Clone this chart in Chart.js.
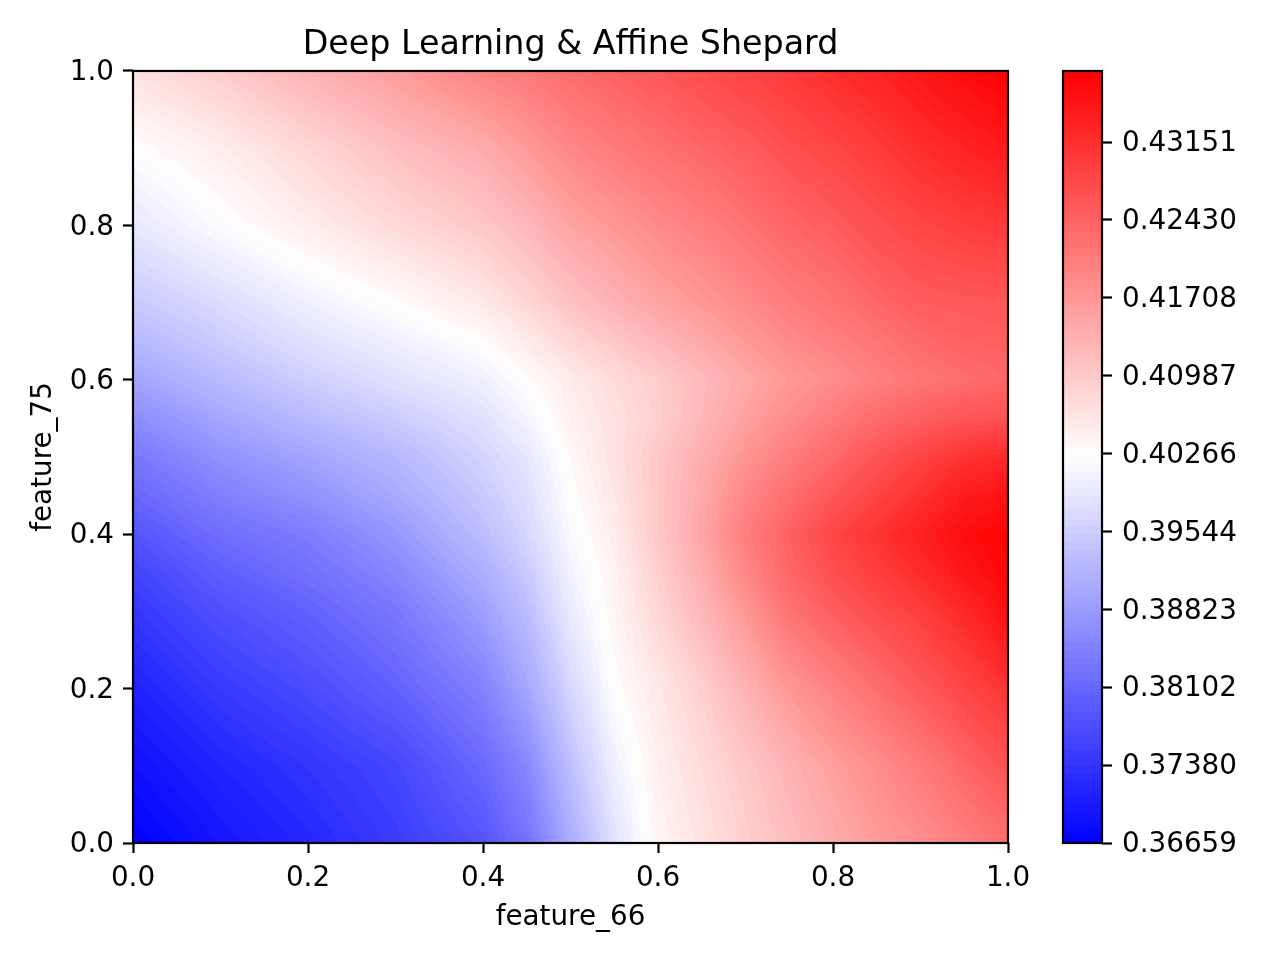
<!DOCTYPE html>
<html>
<head>
<meta charset="utf-8">
<title>Deep Learning & Affine Shepard</title>
<script src="https://cdn.jsdelivr.net/npm/chart.js@4"></script>
<style>
    html, body { margin: 0; padding: 0; background: #fff; }
    #wrap { position: relative; width: 1280px; height: 960px; }
    canvas { position: absolute; top: 0; }
    #heat { left: 0; }
    #cbar { left: 1040px; }
</style>
</head>
<body>
<div id="wrap">
    <canvas id="heat" width="1280" height="960"></canvas>
    <canvas id="cbar" width="240" height="960"></canvas>
</div>
<script>
/* ======================
   DATA
   ====================== */

const feature66 = [0, 0.1, 0.2, 0.3, 0.4, 0.45, 0.5, 0.55, 0.6, 0.65, 0.7, 0.75, 0.8, 0.85, 0.9, 0.95, 1];
const feature75 = [0, 0.1, 0.2, 0.3, 0.35, 0.4, 0.45, 0.5, 0.55, 0.6, 0.65, 0.7, 0.8, 0.9, 1];

// one row of values per feature_75 stop
const row000 = [.3666, .3695, .3720, .3748, .3784, .3827, .3906, .3981, .4038, .4063, .4091, .4116, .4141, .4163, .4181, .4202, .4224];
const row010 = [.3687, .3716, .3738, .3763, .3813, .3855, .3934, .4002, .4045, .4074, .4102, .4131, .4159, .4184, .4209, .4238, .4267];
const row020 = [.3712, .3745, .3770, .3802, .3848, .3898, .3966, .4024, .4056, .4091, .4131, .4170, .4199, .4227, .4256, .4284, .4310];
const row030 = [.3741, .3777, .3802, .3834, .3888, .3931, .3995, .4038, .4081, .4124, .4170, .4220, .4249, .4274, .4295, .4324, .4360];
const row035 = [.3759, .3798, .3823, .3855, .3909, .3948, .4006, .4041, .4091, .4138, .4192, .4238, .4270, .4295, .4320, .4349, .4374];
const row040 = [.3784, .3820, .3841, .3877, .3931, .3966, .4016, .4049, .4102, .4149, .4206, .4245, .4284, .4310, .4338, .4363, .4377];
const row045 = [.3809, .3845, .3870, .3902, .3948, .3977, .4024, .4059, .4102, .4145, .4192, .4227, .4259, .4288, .4313, .4342, .4356];
const row050 = [.3834, .3870, .3895, .3923, .3963, .3988, .4031, .4066, .4102, .4138, .4174, .4206, .4234, .4263, .4288, .4310, .4324];
const row055 = [.3863, .3898, .3927, .3952, .3981, .4009, .4045, .4066, .4091, .4124, .4156, .4184, .4209, .4231, .4249, .4263, .4267];
const row060 = [.3895, .3927, .3956, .3981, .4002, .4027, .4052, .4074, .4095, .4120, .4145, .4167, .4184, .4202, .4217, .4227, .4238];
const row065 = [.3923, .3952, .3981, .4002, .4027, .4052, .4081, .4102, .4124, .4145, .4167, .4188, .4202, .4217, .4234, .4245, .4249];
const row070 = [.3948, .3973, .4002, .4027, .4056, .4081, .4109, .4131, .4152, .4170, .4188, .4206, .4220, .4238, .4252, .4256, .4259];
const row080 = [.3991, .4020, .4049, .4077, .4102, .4124, .4152, .4170, .4188, .4202, .4220, .4238, .4252, .4270, .4284, .4295, .4302];
const row090 = [.4024, .4049, .4081, .4113, .4141, .4167, .4192, .4209, .4224, .4238, .4252, .4270, .4284, .4299, .4317, .4331, .4345];
const row100 = [.4066, .4095, .4131, .4163, .4199, .4213, .4231, .4245, .4259, .4274, .4288, .4302, .4317, .4331, .4349, .4367, .4381];
const rows = [row000, row010, row020, row030, row035, row040, row045, row050, row055, row060, row065, row070, row080, row090, row100];

const axisTicks = [0, 0.2, 0.4, 0.6, 0.8, 1];
const cbarTicks = [0.36659, 0.37380, 0.38102, 0.38823, 0.39544, 0.40266, 0.40987, 0.41708, 0.42430, 0.43151];
const valueMin = 0.36659;
const valueMax = 0.43810;
const levelCount = 100;

/* ======================
   COLOUR HELPERS
   ====================== */

// blue - white - red, stepped like a filled contour plot
const levelOf = (v) => {
    const t = (v - valueMin) / (valueMax - valueMin);
    const band = Math.min(levelCount - 1, Math.max(0, Math.floor(t * levelCount)));
    return (band + 0.5) / levelCount;
};

const bwr = (t) => {
    if (t < 0.5) return [Math.round(510 * t), Math.round(510 * t), 255];
    return [255, Math.round(510 * (1 - t)), Math.round(510 * (1 - t))];
};

const segmentOf = (stops, value) => {
    let i = 0;
    while (i < stops.length - 2 && value > stops[i + 1]) i++;
    return i;
};

/* ======================
   PLUGINS
   ====================== */

// Paints the grid through the chart scales. Only the shading between the read
// grid values is blended, the same way a gouraud pcolormesh would do it.
const heatPlugin = {
    id: 'heatPlugin',
    beforeDatasetsDraw(chart) {
        const { ctx, chartArea, scales } = chart;
        const width = Math.round(chartArea.right - chartArea.left);
        const height = Math.round(chartArea.bottom - chartArea.top);
        const off = document.createElement('canvas');
        off.width = width;
        off.height = height;
        const offCtx = off.getContext('2d');
        const image = offCtx.createImageData(width, height);

        for (let py = 0; py < height; py++) {
            const fy = scales.y.getValueForPixel(chartArea.top + py + 0.5);
            const j = segmentOf(feature75, fy);
            const ty = (fy - feature75[j]) / (feature75[j + 1] - feature75[j]);
            for (let px = 0; px < width; px++) {
                const fx = scales.x.getValueForPixel(chartArea.left + px + 0.5);
                const i = segmentOf(feature66, fx);
                const tx = (fx - feature66[i]) / (feature66[i + 1] - feature66[i]);
                const low = rows[j][i] * (1 - tx) + rows[j][i + 1] * tx;
                const high = rows[j + 1][i] * (1 - tx) + rows[j + 1][i + 1] * tx;
                const rgb = bwr(levelOf(low * (1 - ty) + high * ty));
                const at = (py * width + px) * 4;
                image.data[at] = rgb[0];
                image.data[at + 1] = rgb[1];
                image.data[at + 2] = rgb[2];
                image.data[at + 3] = 255;
            }
        }
        offCtx.putImageData(image, 0, 0);
        ctx.drawImage(off, chartArea.left, chartArea.top);
    }
};

const framePlugin = {
    id: 'framePlugin',
    afterDraw(chart) {
        const { ctx, chartArea } = chart;
        ctx.save();
        ctx.strokeStyle = '#000';
        ctx.lineWidth = 2.2;
        ctx.strokeRect(chartArea.left, chartArea.top, chartArea.right - chartArea.left, chartArea.bottom - chartArea.top);
        ctx.restore();
    }
};

/* ======================
   CHARTS
   ====================== */

Chart.defaults.color = '#000';
Chart.defaults.font.family = '"DejaVu Sans"';
Chart.defaults.font.size = 27.8;

const tickGrid = {
    drawOnChartArea: false,
    drawTicks: true,
    tickLength: 10,
    tickWidth: 2.2,
    tickColor: '#000'
};

const axisOptions = (label, titlePadding, labelOffset, afterFit) => ({
    type: 'linear',
    min: 0,
    max: 1,
    afterBuildTicks: (scale) => { scale.ticks = axisTicks.map(value => ({ value })); },
    afterFit,
    border: { display: false },
    grid: tickGrid,
    ticks: { padding: 9, labelOffset, maxRotation: 0, autoSkip: false, callback: (v) => v.toFixed(1) },
    title: { display: true, text: label, padding: titlePadding, font: { size: 27.8 } }
});

const cells = [];
rows.forEach((row, j) => row.forEach((v, i) => cells.push({ x: feature66[i], y: feature75[j], v })));

new Chart(document.getElementById('heat'), {
    type: 'scatter',
    data: { datasets: [{ data: cells, pointRadius: 0, pointHoverRadius: 0 }] },
    options: {
        responsive: false,
        animation: false,
        devicePixelRatio: 1,
        layout: { padding: { left: 0, right: 272, top: 0, bottom: 0 } },
        plugins: {
            legend: { display: false },
            tooltip: { enabled: false },
            title: {
                display: true,
                text: 'Deep Learning & Affine Shepard',
                fullSize: false,
                padding: { top: 25, bottom: 6 },
                font: { size: 33.3, weight: 'normal' }
            }
        },
        scales: {
            x: axisOptions('feature_66', { top: 0, bottom: 26 }, 0, (scale) => { scale.height = 117; }),
            y: axisOptions('feature_75', { top: 27, bottom: 0 }, 2, (scale) => { scale.width = 133; })
        }
    },
    plugins: [heatPlugin, framePlugin]
});

const cbarFill = (context) => {
    const area = context.chart.chartArea;
    if (!area) return '#fff';
    const gradient = context.chart.ctx.createLinearGradient(0, area.bottom, 0, area.top);
    for (let band = 0; band < levelCount; band++) {
        const rgb = bwr((band + 0.5) / levelCount);
        const color = `rgb(${rgb[0]},${rgb[1]},${rgb[2]})`;
        gradient.addColorStop(band / levelCount, color);
        gradient.addColorStop((band + 1) / levelCount, color);
    }
    return gradient;
};

new Chart(document.getElementById('cbar'), {
    type: 'bar',
    data: {
        labels: [''],
        datasets: [{
            data: [[valueMin, valueMax]],
            backgroundColor: cbarFill,
            barPercentage: 1,
            categoryPercentage: 1
        }]
    },
    options: {
        responsive: false,
        animation: false,
        devicePixelRatio: 1,
        layout: { padding: { left: 23, right: 0, top: 71, bottom: 117 } },
        plugins: { legend: { display: false }, tooltip: { enabled: false } },
        scales: {
            x: { display: false },
            y: {
                position: 'right',
                min: valueMin,
                max: valueMax,
                afterBuildTicks: (scale) => { scale.ticks = cbarTicks.map(value => ({ value })); },
                afterFit: (scale) => { scale.width = 178; },
                border: { display: false },
                grid: tickGrid,
                ticks: { padding: 10, labelOffset: 2, autoSkip: false, callback: (v) => v.toFixed(5) }
            }
        }
    },
    plugins: [framePlugin]
});
</script>
</body>
</html>
